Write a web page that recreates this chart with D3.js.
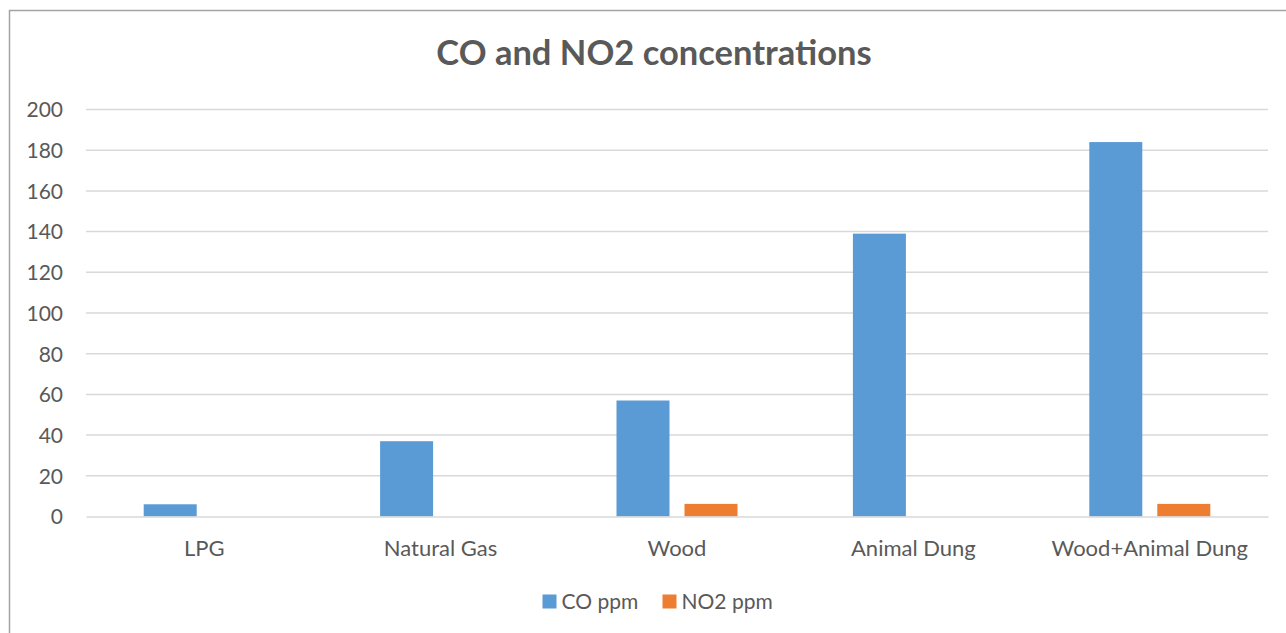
<!DOCTYPE html>
<html><head><meta charset="utf-8">
<script src="https://cdn.jsdelivr.net/npm/d3@7"></script>
<style>
html,body{margin:0;padding:0;background:#fff;overflow:hidden;}
text{font-family:Lato,"Open Sans",sans-serif;fill:#595959;}
</style></head>
<body>
<svg id="chart" width="1286" height="633"></svg>
<script>
const categories = ["LPG", "Natural Gas", "Wood", "Animal Dung", "Wood+Animal Dung"];
const seriesNames = ["CO ppm", "NO2 ppm"];
const coValues = [6, 37, 57, 139, 184];
const no2Values = [0, 0, 6.2, 0, 6.2];
const yTicks = [0, 20, 40, 60, 80, 100, 120, 140, 160, 180, 200];
const colors = ["#5b9bd5", "#ed7d31"];
const title = "CO and NO2 concentrations";

const svg = d3.select("#chart");
// chart border
svg.append("rect").attr("x", 9.5).attr("y", 10.5).attr("width", 1400).attr("height", 700)
  .attr("fill", "#fff").attr("stroke", "#a3a3a3").attr("stroke-width", 1.5);

const x0 = d3.scaleBand().domain(categories).range([86, 1268]).padding(0);
const B = x0.bandwidth();
const pairW = 121;
const x1 = d3.scaleBand().domain(seriesNames).range([(B - pairW) / 2, (B + pairW) / 2])
  .paddingInner(15 / 68).paddingOuter(0);
const y = d3.scaleLinear().domain([0, 200]).range([516.5, 109.5]);

// gridlines
svg.append("g").selectAll("line").data(yTicks.filter(d => d > 0)).join("line")
  .attr("x1", 86).attr("x2", 1268)
  .attr("y1", d => y(d)).attr("y2", d => y(d))
  .attr("stroke", "#d9d9d9").attr("stroke-width", 1.5);

// y axis labels
const yAxis = d3.axisLeft(y).tickValues(yTicks).tickSize(0).tickPadding(0);
const ga = svg.append("g").attr("transform", "translate(63,0)").call(yAxis);
ga.select(".domain").remove();
ga.selectAll("text").attr("font-size", 21).attr("fill", "#595959")
  .style("font-family", "Lato, 'Open Sans', sans-serif").attr("dy", "0.35em");

// bars
const data = categories.map((c, i) => ({ cat: c, vals: [coValues[i], no2Values[i]] }));
const groups = svg.append("g").selectAll("g").data(data).join("g")
  .attr("transform", d => `translate(${x0(d.cat)},0)`);
groups.selectAll("rect").data(d => d.vals.map((v, j) => ({ v, s: seriesNames[j], j })).filter(e => e.v > 0))
  .join("rect")
  .attr("x", e => x1(e.s)).attr("width", x1.bandwidth())
  .attr("y", e => y(e.v)).attr("height", e => y(0) - y(e.v))
  .attr("fill", e => colors[e.j]);

// x axis line
const xAxis = d3.axisBottom(x0).tickSize(0).tickPadding(0);
const gx = svg.append("g").attr("transform", `translate(0,${y(0)})`).call(xAxis);
gx.select(".domain").attr("stroke", "#d9d9d9").attr("stroke-width", 1.5);
gx.selectAll("text").attr("font-size", 22).attr("fill", "#595959")
  .style("font-family", "Lato, 'Open Sans', sans-serif").attr("y", 39.5).attr("dy", 0);

// title
svg.append("text").attr("x", 654).attr("y", 65).attr("text-anchor", "middle")
  .attr("font-size", 34.5).attr("font-weight", "bold").text(title);

// legend
const leg = svg.append("g");
const legX = [542.5, 662.5];
seriesNames.forEach((s, j) => {
  leg.append("rect").attr("x", legX[j]).attr("y", 594.5).attr("width", 14).attr("height", 14).attr("fill", colors[j]);
  leg.append("text").attr("x", legX[j] + 19).attr("y", 609).attr("font-size", 21).text(s);
});
</script>
</body></html>
